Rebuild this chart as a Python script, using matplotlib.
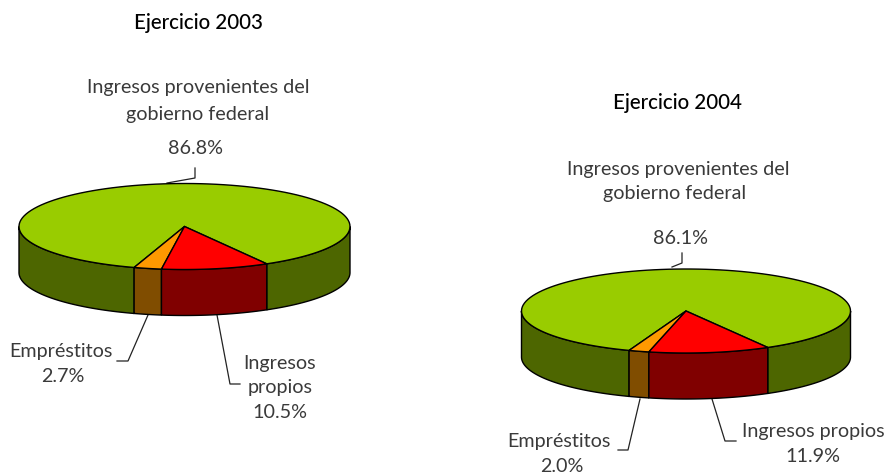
import matplotlib
matplotlib.use("Agg")
import matplotlib.pyplot as plt
import numpy as np
from matplotlib.patches import Polygon

# shares in the order they run counter-clockwise from the start angle
shares_2003 = [86.8, 2.7, 10.5]
shares_2004 = [86.1, 2.0, 11.9]
top_colors = ["#99CC00", "#FF9900", "#FF0000"]
side_colors = ["#4D6600", "#804D00", "#800000"]

plt.rcParams["font.family"] = ["Lato", "DejaVu Sans"]

fig = plt.figure(figsize=(8.87, 4.74), dpi=100)
ax = fig.add_axes([0, 0, 1, 1])
ax.set_xlim(0, 887)
ax.set_ylim(474, 0)
ax.axis("off")


def rim(cx, cy, rx, ry, a0, a1):
    t = np.radians(np.linspace(a0, a1, 120))
    return cx + rx * np.cos(t), cy - ry * np.sin(t)


def draw_pie(shares, cx, cy, rx, ry, depth, start=-60.2):
    edges = start + np.cumsum([0] + shares) * 3.6
    # walls first, only the front half of the rim is visible
    for i in range(len(shares)):
        a0 = max(edges[i], 180)
        a1 = min(edges[i + 1], 360)
        for lo, hi in [(a0, a1), (edges[i], min(edges[i + 1], 0))]:
            if hi <= lo:
                continue
            x, y = rim(cx, cy, rx, ry, lo, hi)
            pts = np.r_[np.c_[x, y], np.c_[x[::-1], y[::-1] + depth]]
            ax.add_patch(Polygon(pts, fc=side_colors[i], ec="black", lw=1.0, zorder=2))
    for i in range(len(shares)):
        x, y = rim(cx, cy, rx, ry, edges[i], edges[i + 1])
        pts = np.r_[[[cx, cy]], np.c_[x, y]]
        ax.add_patch(Polygon(pts, fc=top_colors[i], ec="black", lw=1.0, zorder=3))


draw_pie(shares_2003, 184.5, 226.5, 165.5, 43, 46)
draw_pie(shares_2004, 686, 311, 164.5, 42, 46)

leaders = [
    ([167, 195, 195], [183, 178, 168]),
    ([148, 128, 117], [315, 361, 361]),
    ([217, 230, 240], [315, 384, 384]),
    ([672, 682, 682], [267, 263, 253]),
    ([640, 628, 618], [399, 450, 450]),
    ([712, 725, 736], [399, 441, 441]),
]
for lx, ly in leaders:
    ax.plot(lx, ly, color="#222222", lw=0.9, zorder=1)

titles = [("Ejercicio 2003", 198.5, 23), ("Ejercicio 2004", 678, 103)]
labels = [
    ("Ingresos provenientes del", 198, 87),
    ("gobierno federal", 198, 114),
    ("86.8%", 196, 148),
    ("Empréstitos", 61, 352),
    ("2.7%", 63, 377),
    ("Ingresos", 280, 363),
    ("propios", 280, 388),
    ("10.5%", 280, 413),
    ("Ingresos provenientes del", 678, 169),
    ("gobierno federal", 675, 193),
    ("86.1%", 681, 238),
    ("Empréstitos", 559, 441),
    ("2.0%", 562, 466),
    ("Ingresos propios", 813, 431),
    ("11.9%", 813, 456),
]
for s, x, y in titles:
    ax.text(x, y, s, ha="center", va="center", fontsize=14.8, color="black", weight="medium")
for s, x, y in labels:
    ax.text(x, y, s, ha="center", va="center", fontsize=14.2, color="#3a3a3a")

fig.savefig("out.png", dpi=100)
